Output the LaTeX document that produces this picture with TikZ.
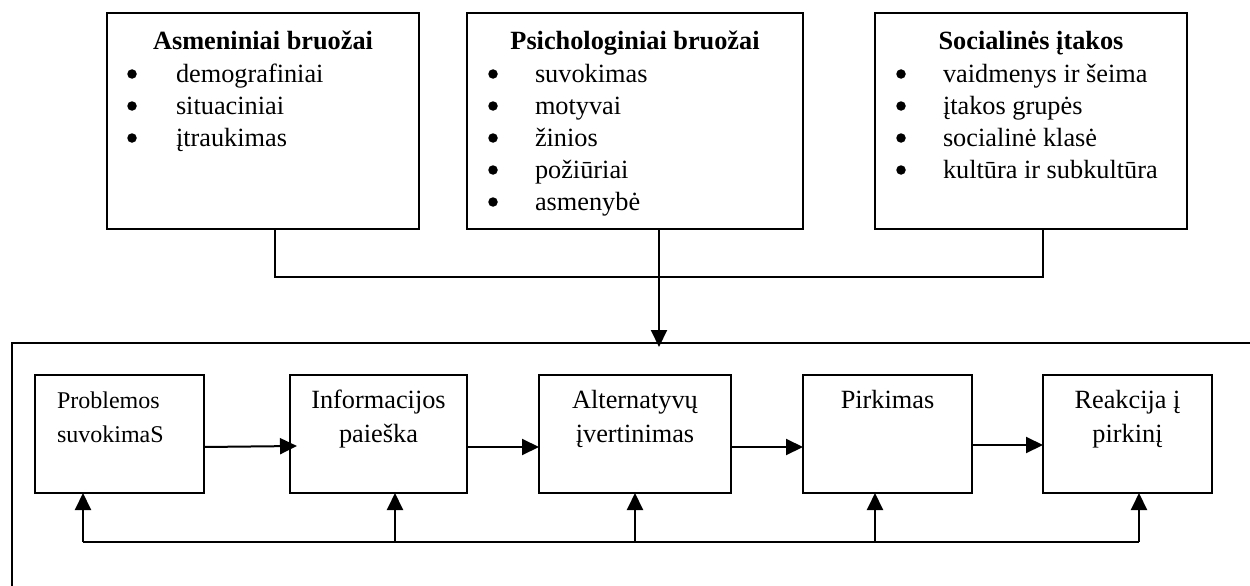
\documentclass[tikz,border=0pt]{standalone}
\usepackage{fontspec}
\setmainfont{Liberation Serif}
\usetikzlibrary{arrows.meta}

\begin{document}
\begin{tikzpicture}[x=1pt,y=-1pt,
  every node/.style={inner sep=0pt, outer sep=0pt},
  boxline/.style={draw, line width=2pt},
  topbox/.style={boxline, anchor=north west, minimum height=216pt, minimum width=#1},
  stagebox/.style={boxline, anchor=north west, minimum height=118pt, minimum width=#1},
  link/.style={line width=2pt},
  arr/.style={link, -{Triangle[length=17pt,width=16pt]}},
  body/.style={font=\fontsize{26.3}{32}\selectfont, anchor=base},
  head/.style={font=\fontsize{26.3}{32}\selectfont\bfseries, anchor=base},
  item/.style={font=\fontsize{26.3}{32}\selectfont, anchor=base west},
  small/.style={font=\fontsize{24}{34}\selectfont, anchor=base west},
  dot/.style={circle, fill, minimum size=9.5pt},
]
\useasboundingbox (0,0) rectangle (1250,586);
\fill[white] (0,0) rectangle (1250,586);

% frame around the purchase process (continues past the page edges)
\coordinate (fTL) at (12,343);
\draw[link] ([xshift=1240pt]fTL) -- (fTL) -- ([yshift=-245pt]fTL);

% factor boxes
\node[topbox=312pt] (b1) at (107,13) {};
\node[topbox=336pt] (b2) at (467,13) {};
\node[topbox=312pt] (b3) at (875,13) {};

\node[head] (h1) at (263,50) {Asmeniniai bruožai};
\node[head] (h2) at (635,50) {Psichologiniai bruožai};
\node[head] (h3) at (1031,50) {Socialinės įtakos};

\foreach \t [count=\k] in {demografiniai, situaciniai, įtraukimas} {
  \node[dot] (u1b\k) at (132, 42+32*\k) {};
  \node[item] (u1t\k) at (176, 50+32*\k) {\t};
}
\foreach \t [count=\k] in {suvokimas, motyvai, žinios, požiūriai, asmenybė} {
  \node[dot] (u2b\k) at (493, 42+32*\k) {};
  \node[item] (u2t\k) at (535, 50+32*\k) {\t};
}
\foreach \t [count=\k] in {vaidmenys ir šeima, įtakos grupės, socialinė klasė, kultūra ir subkultūra} {
  \node[dot] (u3b\k) at (901, 42+32*\k) {};
  \node[item] (u3t\k) at (943, 50+32*\k) {\t};
}

% joining the factors into the process
\coordinate (j1) at (275,277);
\coordinate (j3) at (1043,277);
\coordinate (j2) at (659,347);
\draw[link] (b1.south -| j1) -- (j1) -- (j3) -- (b3.south -| j3);
\draw[arr] (b2.south -| j2) -- (j2);

% process stages
\node[stagebox=169pt] (s1) at (35,375) {};
\node[stagebox=177pt] (s2) at (290,375) {};
\node[stagebox=192pt] (s3) at (539,375) {};
\node[stagebox=169pt] (s4) at (803,375) {};
\node[stagebox=169pt] (s5) at (1043,375) {};

\node[small] (l1a) at (57,408) {Problemos};
\node[small] (l1b) at (57,442) {suvokimaS};
\node[body] (l2a) at (378.5,408) {Informacijos};
\node[body] (l2b) at (378.5,442) {paieška};
\node[body] (l3a) at (635,408) {Alternatyvų};
\node[body] (l3b) at (635,442) {įvertinimas};
\node[body] (l4a) at (887.5,408) {Pirkimas};
\node[body] (l5a) at (1127.5,408) {Reakcija į};
\node[body] (l5b) at (1127.5,442) {pirkinį};

\draw[arr] ([yshift=-13pt]s1.east) -- ([xshift=7pt,yshift=-12pt]s2.west);
\draw[arr] ([yshift=-13pt]s2.east) -- ([yshift=-13pt]s3.west);
\draw[arr] ([yshift=-13pt]s3.east) -- ([yshift=-13pt]s4.west);
\draw[arr] ([yshift=-11pt]s4.east) -- ([yshift=-11pt]s5.west);

% feedback line
\coordinate (f1) at (83,542);
\coordinate (f2) at (395,542);
\coordinate (f3) at (635,542);
\coordinate (f4) at (875,542);
\coordinate (f5) at (1139,542);
\draw[link] (f1) -- (f5);
\foreach \i in {1,...,5} \draw[arr] (f\i) -- (f\i |- s\i.south);
\end{tikzpicture}
\end{document}
